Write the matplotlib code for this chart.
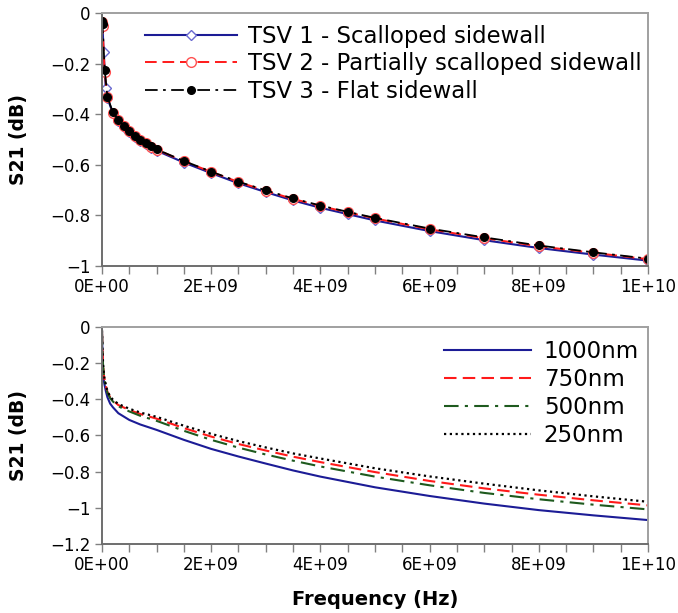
import matplotlib
matplotlib.use("Agg")
import matplotlib.pyplot as plt
from matplotlib.ticker import MultipleLocator, FuncFormatter

# ---------------- data (frequency in Hz) ----------------
freq_tsv1 = [1e6, 1e7, 3e7, 7e7, 1e8, 2e8, 3e8, 4e8, 5e8, 6e8, 7e8, 8e8, 9e8, 1e9,
             1.5e9, 2e9, 2.5e9, 3e9, 3.5e9, 4e9, 4.5e9, 5e9, 6e9, 7e9, 8e9, 9e9, 1e10]
s21_tsv1 = [-0.035, -0.05, -0.153, -0.298, -0.336, -0.397, -0.426, -0.450, -0.469, -0.489,
            -0.506, -0.519, -0.532, -0.544, -0.591, -0.633, -0.673, -0.708, -0.741,
            -0.770, -0.795, -0.820, -0.862, -0.898, -0.929, -0.955, -0.979]

freq_tsv23 = [1e6, 1e7, 5e7, 1e8, 2e8, 3e8, 4e8, 5e8, 6e8, 7e8, 8e8, 9e8, 1e9,
              1.5e9, 2e9, 2.5e9, 3e9, 3.5e9, 4e9, 4.5e9, 5e9, 6e9, 7e9, 8e9, 9e9, 1e10]
s21_tsv2 = [-0.035, -0.05, -0.235, -0.333, -0.394, -0.423, -0.447, -0.466, -0.486, -0.502,
            -0.515, -0.528, -0.540, -0.586, -0.628, -0.668, -0.703, -0.735, -0.763,
            -0.788, -0.812, -0.855, -0.890, -0.922, -0.948, -0.973]
s21_tsv3 = [-0.03, -0.045, -0.225, -0.332, -0.393, -0.422, -0.446, -0.465, -0.485, -0.501,
            -0.514, -0.527, -0.539, -0.585, -0.627, -0.667, -0.701, -0.733, -0.761,
            -0.786, -0.810, -0.852, -0.887, -0.919, -0.946, -0.971]

freq_sweep = [0, 5e6, 1e7, 2e7, 4e7, 7e7, 1e8, 1.5e8, 2e8, 3e8, 5e8, 7e8, 1e9, 1.5e9,
              2e9, 2.5e9, 3e9, 3.5e9, 4e9, 5e9, 6e9, 7e9, 8e9, 9e9, 1e10]
s21_1000nm = [-0.02, -0.09, -0.15, -0.24, -0.31, -0.355, -0.39, -0.425, -0.445, -0.478,
              -0.515, -0.54, -0.57, -0.625, -0.675, -0.717, -0.756, -0.794, -0.828,
              -0.887, -0.935, -0.977, -1.013, -1.042, -1.068]
s21_750nm = [-0.02, -0.08, -0.13, -0.21, -0.28, -0.325, -0.36, -0.39, -0.408, -0.433,
             -0.46, -0.482, -0.508, -0.56, -0.607, -0.648, -0.684, -0.718, -0.748,
             -0.803, -0.852, -0.893, -0.928, -0.959, -0.987]
s21_500nm = [-0.02, -0.08, -0.135, -0.215, -0.285, -0.33, -0.365, -0.395, -0.413, -0.44,
             -0.468, -0.492, -0.52, -0.575, -0.625, -0.668, -0.706, -0.74, -0.772,
             -0.828, -0.876, -0.918, -0.953, -0.983, -1.009]
s21_250nm = [-0.02, -0.075, -0.125, -0.205, -0.275, -0.32, -0.355, -0.385, -0.403, -0.427,
             -0.453, -0.474, -0.498, -0.547, -0.592, -0.632, -0.667, -0.7, -0.728,
             -0.782, -0.827, -0.867, -0.904, -0.937, -0.967]

top_labels = ["TSV 1 - Scalloped sidewall", "TSV 2 - Partially scalloped sidewall",
              "TSV 3 - Flat sidewall"]
bottom_labels = ["1000nm", "750nm", "500nm", "250nm"]

# ---------------- figure ----------------
plt.rcParams['font.family'] = ['DejaVu Sans']
fig = plt.figure(figsize=(6.78, 6.13), dpi=100)
ax1 = fig.add_axes([0.1504, 0.5661, 0.8054, 0.4127])
ax2 = fig.add_axes([0.1504, 0.1126, 0.8054, 0.3545])

BLUE = '#1c1c96'
RED = '#ff1a1a'
GREEN = '#1e5a1e'
SPINE = '#808080'

ax1.plot(freq_tsv1, s21_tsv1, color=BLUE, lw=1.5, marker='D', ms=5,
         mfc='white', mec='#6a6ad0', mew=1.0, label=top_labels[0])
ax1.plot(freq_tsv23, s21_tsv2, color=RED, lw=1.4, ls=(0, (6, 3)), marker='o', ms=7,
         mfc='white', mec='#ff5050', mew=1.0, label=top_labels[1])
ax1.plot(freq_tsv23, s21_tsv3, color='black', lw=1.3, ls=(0, (7, 3, 1.5, 3)), marker='o',
         ms=5.5, mfc='black', mec='black', label=top_labels[2])

ax2.plot(freq_sweep, s21_1000nm, color=BLUE, lw=1.5, label=bottom_labels[0])
ax2.plot(freq_sweep, s21_750nm, color=RED, lw=1.5, ls=(0, (6, 3)), label=bottom_labels[1])
ax2.plot(freq_sweep, s21_500nm, color=GREEN, lw=1.5, ls=(0, (7, 3, 1.5, 3)),
         label=bottom_labels[2])
ax2.plot(freq_sweep, s21_250nm, color='black', lw=1.6, ls=(0, (1, 1.6)),
         label=bottom_labels[3])


def xfmt(v, pos):
    if abs(v) < 1:
        return "0E+00"
    e = int(f"{v:E}".split("E")[1])
    m = v / 10 ** e
    return f"{m:.0f}E+{e:02d}"


def yfmt(v, pos):
    s = f"{v:.1f}".rstrip('0').rstrip('.')
    if s in ("-0", "0"):
        return "0"
    return s.replace('-', '\u2212')


for ax, ymin, ymax in ((ax1, -1.0, 0.0), (ax2, -1.2, 0.0)):
    ax.set_xlim(0, 1e10)
    ax.set_ylim(ymin, ymax)
    ax.xaxis.set_major_locator(MultipleLocator(2e9))
    ax.xaxis.set_minor_locator(MultipleLocator(5e8))
    ax.yaxis.set_major_locator(MultipleLocator(0.2))
    ax.xaxis.set_major_formatter(FuncFormatter(xfmt))
    ax.yaxis.set_major_formatter(FuncFormatter(yfmt))
    ax.tick_params(axis='both', which='both', direction='out', color=SPINE,
                   labelsize=12, width=1.0)
    ax.tick_params(axis='x', which='both', length=6, pad=3)
    ax.tick_params(axis='y', length=5, pad=3)
    ax.tick_params(top=False, right=False)
    for side in ('left', 'bottom'):
        ax.spines[side].set_color('#6e6e6e')
        ax.spines[side].set_linewidth(1.4)
    for side in ('top', 'right'):
        ax.spines[side].set_color('#a0a0a0')
        ax.spines[side].set_linewidth(1.4)
    ax.set_ylabel("S21 (dB)", fontsize=13.5, fontweight='bold')
    ax.yaxis.set_label_coords(-0.135, 0.5)

ax2.set_xlabel("Frequency (Hz)", fontsize=14, fontweight='bold', labelpad=11)

ax1.legend(loc='upper left', frameon=False, fontsize=16.4, handlelength=4.0,
           handletextpad=0.5, labelspacing=0.2, borderaxespad=0.0,
           bbox_to_anchor=(0.063, 0.99))
ax2.legend(loc='upper left', frameon=False, fontsize=16.5, handlelength=3.8,
           handletextpad=0.57, labelspacing=0.22, borderaxespad=0.0,
           bbox_to_anchor=(0.609, 0.983))

fig.savefig("out.png", dpi=100)
